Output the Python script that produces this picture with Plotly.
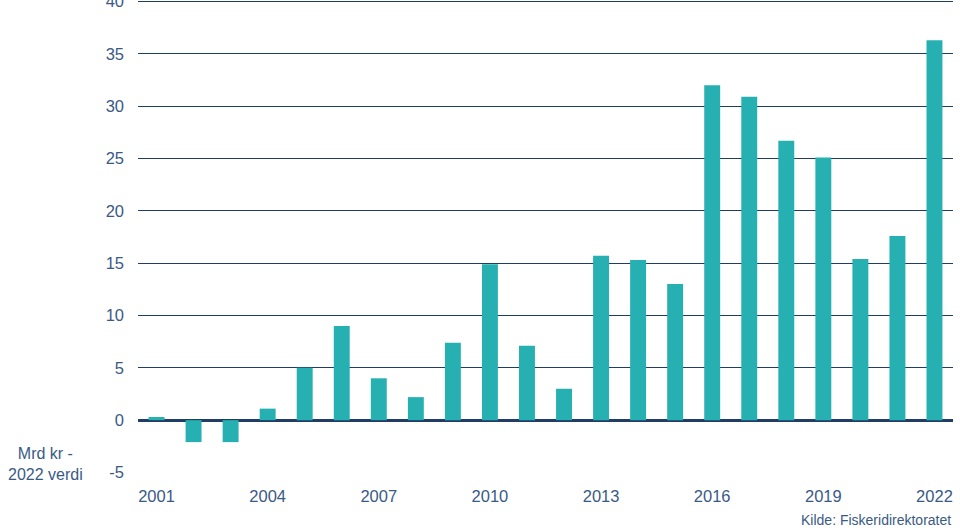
import plotly.graph_objects as go

years = list(range(2001, 2023))
values = [0.3, -2.1, -2.1, 1.1, 5.0, 9.0, 4.0, 2.2, 7.4, 14.9, 7.1, 3.0,
          15.7, 15.3, 13.0, 32.0, 30.9, 26.7, 25.1, 15.4, 17.6, 36.3]
x_ticks = [2001, 2004, 2007, 2010, 2013, 2016, 2019, 2022]
y_ticks = [-5, 0, 5, 10, 15, 20, 25, 30, 35, 40]

bar_color = "#26b0b2"
grid_color = "#1f3d66"
text_color = "#3a5a86"
font_family = "Liberation Sans, Arial, sans-serif"

fig = go.Figure()
fig.add_trace(go.Bar(x=years, y=values, marker_color=bar_color,
                     marker_line_width=0, width=0.43))

fig.update_layout(
    width=960, height=528,
    margin=dict(l=138, r=7, t=0, b=55, autoexpand=False),
    paper_bgcolor="white", plot_bgcolor="white",
    showlegend=False,
    font=dict(family=font_family, size=16, color=text_color),
    xaxis=dict(range=[2000.5, 2022.5], tickvals=x_ticks,
               ticktext=[str(t) for t in x_ticks],
               showgrid=False, zeroline=False, showline=False,
               ticks="", ticklabelstandoff=11, automargin=False,
               tickfont=dict(size=16.5, color=text_color)),
    yaxis=dict(range=[-5.05, 40.15], tickvals=y_ticks,
               ticktext=[str(t) for t in y_ticks],
               ticklabeloverflow="allow", showgrid=True, automargin=False,
               gridcolor=grid_color, gridwidth=1.4,
               zeroline=True, zerolinecolor=grid_color, zerolinewidth=2.5,
               showline=False, ticks="", ticklabelstandoff=13,
               tickfont=dict(size=16.5, color=text_color)),
    annotations=[
        dict(text="Mrd kr -<br>2022 verdi", xref="paper", yref="paper",
             x=-0.113, y=0.02, xanchor="center", yanchor="middle",
             showarrow=False, align="center",
             font=dict(size=16, color=text_color, family=font_family)),
        dict(text="Kilde: Fiskeridirektoratet", xref="paper", yref="paper",
             x=1.0, y=-0.1, xanchor="right", yanchor="middle",
             showarrow=False,
             font=dict(size=14, color=text_color, family=font_family)),
    ],
)

fig.write_html("out.html", config={"displayModeBar": False},
               post_script="document.body.style.margin='0';document.body.style.overflow='hidden';")
